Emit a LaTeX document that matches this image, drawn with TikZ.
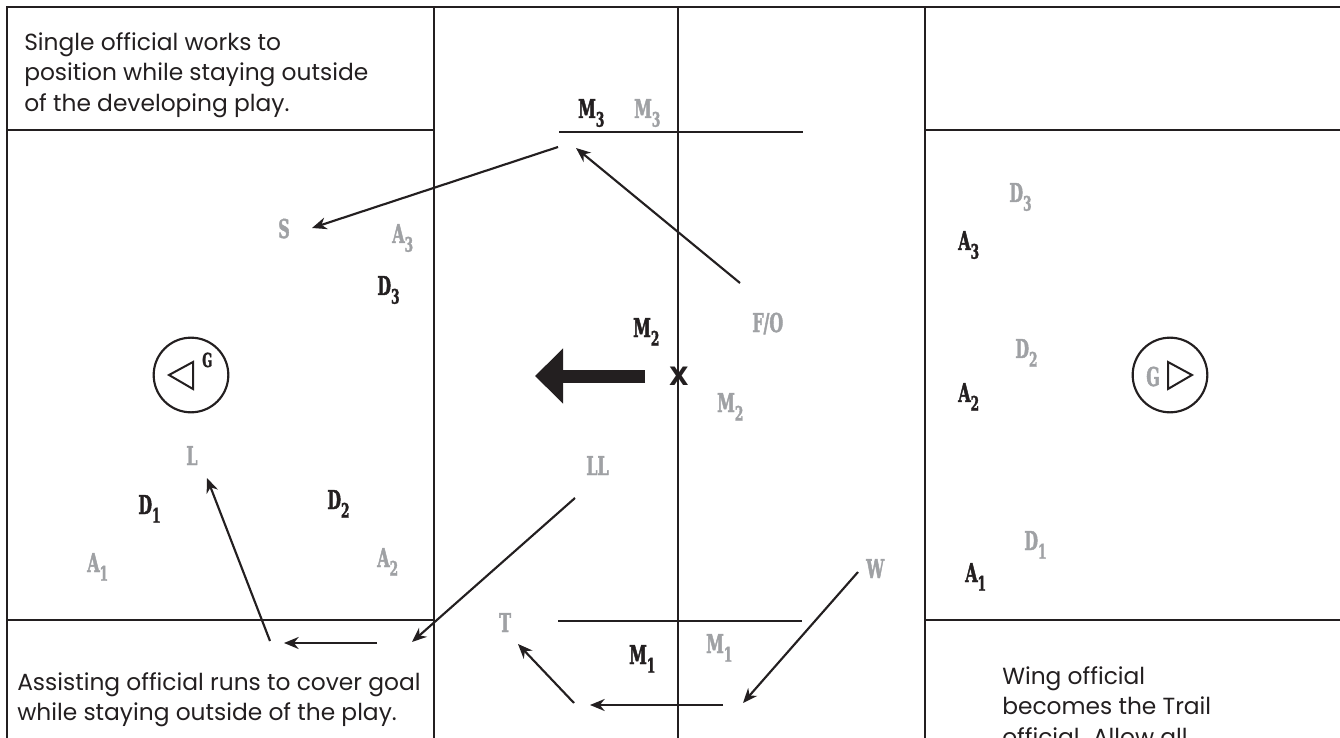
\documentclass[tikz,border=0pt]{standalone}
\usepackage{fontspec}
\setmainfont{Poppins}
\newfontfamily\labfont[FakeStretch=0.68, FakeBold=1.6]{DejaVu Serif Condensed}
\newfontfamily\markfont{DejaVu Sans}
\usetikzlibrary{arrows.meta}
\definecolor{Ink}{HTML}{231F20}
\definecolor{Mute}{HTML}{9FA1A4}
\newcommand{\pos}[2]{#1\raisebox{-6.5pt}{\fontsize{15}{15}\selectfont #2}}

\begin{document}
\begin{tikzpicture}[x=0.75pt, y=-0.75pt,
  field/.style={draw=Ink, line width=2.2pt},
  run/.style={draw=Ink, line width=1.6pt, -{Stealth[length=11pt, width=9pt]}},
  own/.style={anchor=base west, inner sep=0pt, text=Ink, font=\labfont\bfseries\fontsize{19.5}{20}\selectfont},
  opp/.style={own, text=Mute},
  goal/.style={circle, draw=Ink, line width=1.6pt, minimum size=56pt, inner sep=0pt},
  note/.style={anchor=north west, inner sep=0pt, text=Ink, align=left, font=\fontsize{17.5}{23}\selectfont}]
  \useasboundingbox (0,0) rectangle (1340,738);
  \clip (0,0) rectangle (1340,738);
  % Field lines
  \draw[field] (1340,7) -- (7,7) -- (7,738);
  \foreach \x in {434,678,925} \draw[field] (\x,7) -- (\x,738);
  \foreach \y in {130,620} {
    \draw[field] (7,\y) -- (434,\y);
    \draw[field] (925,\y) -- (1340,\y);
  }
  \draw[field] (559,132) -- (803,132);
  \draw[field] (558,621) -- (802,621);
  % Goals
  \node[goal] (lgoal) at (191,375) {};
  \draw[line width=1.5pt, Ink, line join=miter] (169,375) -- (193,362) -- (193,389) -- cycle;
  \node[own, font=\labfont\bfseries\fontsize{14.5}{15}\selectfont] (lg) at (202,367) {G};
  \node[goal] (rgoal) at (1170,375) {};
  \draw[line width=1.5pt, Ink, line join=miter] (1192,375) -- (1168,362) -- (1168,389) -- cycle;
  \node[opp] (rg) at (1146,386) {G};
  % Players, left half
  \node[opp] (s) at (278,238) {S};
  \node[opp] (a3) at (392,243) {\pos{A}{3}};
  \node[own] (d3) at (377,295) {\pos{D}{3}};
  \node[opp] (l) at (186,465) {L};
  \node[own] (d1) at (138,514) {\pos{D}{1}};
  \node[own] (d2) at (327,509) {\pos{D}{2}};
  \node[opp] (a1) at (87,572) {\pos{A}{1}};
  \node[opp] (a2) at (377,567) {\pos{A}{2}};
  % Midfield
  \node[own] (m3) at (578,118) {\pos{M}{3}};
  \node[opp] (om3) at (634,118) {\pos{M}{3}};
  \node[opp] (fo) at (752,332) {F/O};
  \node[own] (m2) at (633,337) {\pos{M}{2}};
  \node[own, anchor=center, font=\markfont\bfseries\fontsize{19}{19}\selectfont] (x) at (679,376) {X};
  \node[opp] (om2) at (717,412) {\pos{M}{2}};
  \node[opp] (ll) at (586,475) {LL};
  \node[opp] (w) at (866,578) {W};
  \node[opp] (t) at (499,632) {T};
  \node[own] (m1) at (629,664) {\pos{M}{1}};
  \node[opp] (om1) at (706,653) {\pos{M}{1}};
  % Players, right half
  \node[opp] (rd3) at (1009,202) {\pos{D}{3}};
  \node[own] (ra3) at (958,250) {\pos{A}{3}};
  \node[opp] (rd2) at (1015,358) {\pos{D}{2}};
  \node[own] (ra2) at (958,402) {\pos{A}{2}};
  \node[opp] (rd1) at (1024,550) {\pos{D}{1}};
  \node[own] (ra1) at (965,582) {\pos{A}{1}};
  % Ball movement
  \coordinate (push-from) at (645,376);
  \coordinate (push-to) at (535,376);
  \draw[Ink, line width=9.75pt, -{Triangle[length=21pt, width=40pt]}] (push-from) -- (push-to);
  % Official runs
  \coordinate (fo-run) at (740,283);
  \coordinate (m3-gap) at (576,148);
  \coordinate (m3-turn) at (558,147);
  \coordinate (s-spot) at (312,228);
  \coordinate (ll-run) at (575,498);
  \coordinate (sweep-in) at (412,642);
  \coordinate (sweep-a) at (377,643);
  \coordinate (sweep-b) at (284,643);
  \coordinate (l-run) at (270,641);
  \coordinate (l-spot) at (207,478);
  \coordinate (w-run) at (858,572);
  \coordinate (w-turn) at (743,703);
  \coordinate (back-a) at (723,705);
  \coordinate (back-b) at (590,705);
  \coordinate (t-run) at (574,703);
  \coordinate (t-spot) at (518,644);
  \foreach \a/\b in {fo-run/m3-gap, m3-turn/s-spot, ll-run/sweep-in, sweep-a/sweep-b,
    l-run/l-spot, w-run/w-turn, back-a/back-b, t-run/t-spot}
    \draw[run] (\a) -- (\b);
  % Notes
  \node[note] (single) at (24,32) {Single official works to\\position while staying outside\\of the developing play.};
  \node[note] (assist) at (17,672) {Assisting official runs to cover goal\\while staying outside of the play.};
  \node[note] (wing) at (1002,666) {Wing official\\becomes the Trail\\official. Allow all};
\end{tikzpicture}
\end{document}
